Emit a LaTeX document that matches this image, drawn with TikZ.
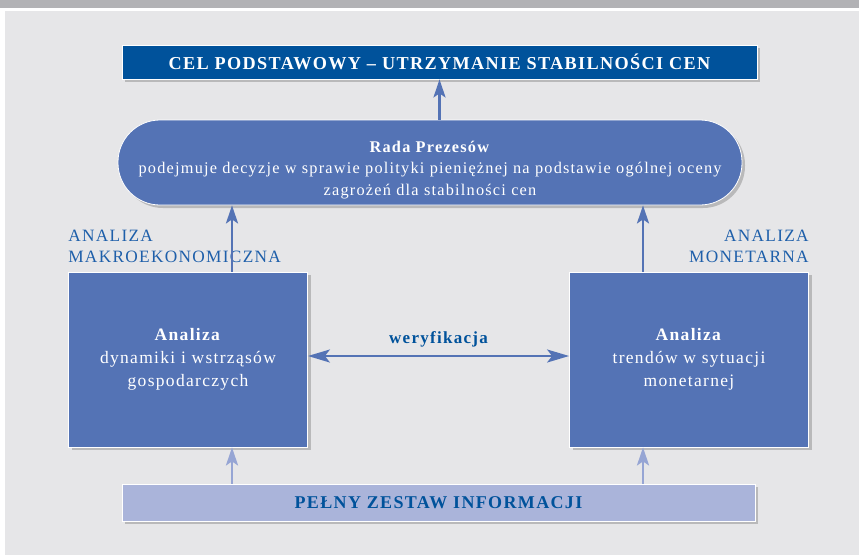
\documentclass[tikz,border=0pt]{standalone}
\usepackage{fontspec}
\setmainfont{Liberation Serif}[LetterSpace=7.5]
\usetikzlibrary{arrows.meta,shadows}

\definecolor{bandgray}{RGB}{178,178,181}
\definecolor{bggray}{RGB}{230,230,232}
\definecolor{celblue}{RGB}{0,82,155}
\definecolor{boxblue}{RGB}{84,115,181}
\definecolor{labelblue}{RGB}{30,95,170}
\definecolor{infoblue}{RGB}{170,180,218}
\definecolor{infoarrow}{RGB}{150,165,212}

\tikzset{
  shade box/.style={draw=white, line width=0.8pt, inner sep=0pt,
    drop shadow={shadow xshift=3pt, shadow yshift=-3pt, opacity=0.35, fill=black!60}},
  celbox/.style={shade box, fill=celblue, text=white,
    font=\fontsize{18.2}{22}\selectfont\bfseries,
    minimum width=635pt, minimum height=34pt},
  radabox/.style={shade box, fill=boxblue, text=white, align=center,
    rounded corners=42pt, font=\fontsize{16.3}{21.5}\selectfont,
    minimum width=624pt, minimum height=85pt},
  analbox/.style={shade box, fill=boxblue, text=white, align=center,
    font=\fontsize{17.5}{23}\selectfont,
    minimum width=239pt, minimum height=175pt},
  infobox/.style={shade box, fill=infoblue, text=celblue,
    font=\fontsize{18}{20}\selectfont\bfseries,
    minimum width=633pt, minimum height=37pt},
  sidelabel/.style={text=labelblue, inner sep=0pt,
    font=\fontsize{17.3}{21}\selectfont},
  arr/.style={->, >={Stealth[length=18pt, width=12pt, inset=4pt]},
    line width=2.6pt, draw=boxblue},
  infoarr/.style={arr, draw=infoarrow},
}

\begin{document}
\begin{tikzpicture}[x=1pt, y=-1pt]
\useasboundingbox (0,0) rectangle (859,555);
\fill[white] (0,0) rectangle (859,555);
\fill[bandgray] (0,0) rectangle (859,8);
\fill[bggray] (5,11) rectangle (859,555);

% boxes
\node[celbox] (cel) at (439.5,62) {CEL PODSTAWOWY – UTRZYMANIE STABILNOŚCI CEN};
\node[radabox] (rada) at (430,162.5) {\rule{0pt}{26pt}\textbf{Rada Prezesów}\\
  podejmuje decyzje w sprawie polityki pieniężnej na podstawie ogólnej oceny\\
  zagrożeń dla stabilności cen};
\node[analbox] (makro) at (188,359.5) {\textbf{Analiza}\\dynamiki i wstrząsów\\gospodarczych};
\node[analbox] (mone) at (689,359.5) {\textbf{Analiza}\\trendów w sytuacji\\monetarnej};
\node[infobox] (info) at (438.5,502.5) {PEŁNY ZESTAW INFORMACJI};

% labels
\node[sidelabel, align=left, anchor=south west] (makrolab)
  at ([yshift=9pt]makro.north west) {ANALIZA\\MAKROEKONOMICZNA};
\node[sidelabel, align=right, anchor=south east] (monelab)
  at ([yshift=9pt]mone.north east) {ANALIZA\\MONETARNA};

% arrows
\draw[arr] (cel.south |- rada.north) -- (cel.south);
\draw[arr] ([xshift=44pt]makro.north) -- ([xshift=44pt]makro.north |- rada.south);
\draw[arr] ([xshift=-46pt]mone.north) -- ([xshift=-46pt]mone.north |- rada.south);
\draw[infoarr] (info.north -| makro.south) ++(44pt,0) -- ([xshift=44pt]makro.south);
\draw[infoarr] (info.north -| mone.south) ++(-46pt,0) -- ([xshift=-46pt]mone.south);
\draw[arr, <->, line width=2.2pt, >={Stealth[length=22pt, width=13pt, inset=5pt]}]
  ([yshift=3.5pt]makro.east) -- node[above=4pt, text=celblue,
  font=\fontsize{17}{20}\selectfont\bfseries] (wer) {weryfikacja}
  ([yshift=3.5pt]mone.west);
\end{tikzpicture}
\end{document}
